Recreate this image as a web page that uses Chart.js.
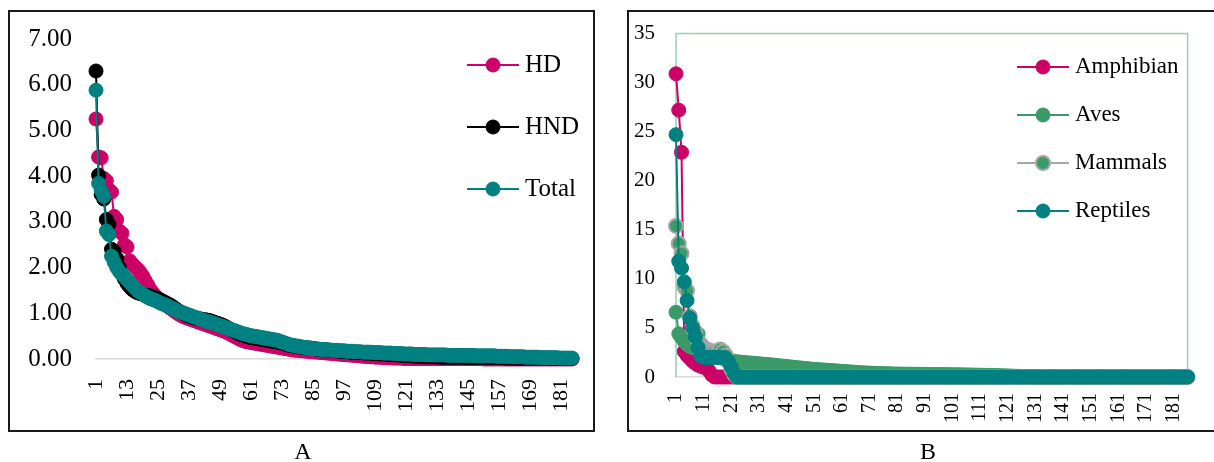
<!DOCTYPE html>
<html>
<head>
<meta charset="utf-8">
<script src="https://cdn.jsdelivr.net/npm/chart.js@4.4.1/dist/chart.umd.min.js"></script>
<style>
  html, body { margin: 0; padding: 0; background: #fff; }
  #page { position: relative; width: 1214px; height: 462px; overflow: hidden; font-family: 'Liberation Serif', 'Times New Roman', serif; }
  .frame { position: absolute; border: 2px solid #1a1a1a; box-sizing: border-box; }
  #frameA { left: 8px; top: 10px; width: 587px; height: 422px; }
  #frameB { left: 627px; top: 10px; width: 600px; height: 422px; }
  canvas { position: absolute; top: 0; }
  #chartA { left: 0; }
  #chartB { left: 612px; }
  .tag { position: absolute; top: 439px; width: 40px; font-size: 24px; line-height: 24px; text-align: center; color: #000; }
</style>
</head>
<body>
<div id="page">
  <div class="frame" id="frameA"></div>
  <div class="frame" id="frameB"></div>
  <canvas id="chartA" width="612" height="462"></canvas>
  <canvas id="chartB" width="602" height="462"></canvas>
  <div class="tag" style="left:283px">A</div>
  <div class="tag" style="left:908px">B</div>
</div>
<script>
// Panel A - ranked values (HD / HND / Total)
const seriesHD = [
  5.25, 4.42, 4.40, 3.95, 3.90, 3.70, 3.65, 3.12, 3.05, 2.80,
  2.75, 2.50, 2.45, 2.15, 2.08, 2.02, 1.97, 1.90, 1.82, 1.72,
  1.62, 1.52, 1.44, 1.38, 1.32, 1.27, 1.22, 1.18, 1.14, 1.10,
  1.06, 1.02, 0.98, 0.95, 0.92, 0.90, 0.88, 0.86, 0.84, 0.82,
  0.80, 0.78, 0.76, 0.74, 0.72, 0.70, 0.68, 0.66, 0.64, 0.62,
  0.60, 0.57, 0.54, 0.51, 0.48, 0.45, 0.42, 0.40, 0.38, 0.37,
  0.36, 0.35, 0.34, 0.33, 0.32, 0.31, 0.30, 0.29, 0.28, 0.27,
  0.26, 0.25, 0.24, 0.23, 0.22, 0.21, 0.20, 0.19, 0.19, 0.18,
  0.18, 0.17, 0.17, 0.16, 0.16, 0.15, 0.15, 0.14, 0.14, 0.13,
  0.13, 0.12, 0.12, 0.11, 0.11, 0.10, 0.10, 0.09, 0.09, 0.08,
  0.08, 0.07, 0.07, 0.06, 0.06, 0.05, 0.05, 0.05, 0.04, 0.04,
  0.04, 0.03, 0.03, 0.03, 0.03, 0.02, 0.02, 0.02, 0.02, 0.01,
  0.01, 0.01, 0.01, 0.01, 0.01, 0.01, 0.01, 0.01, 0.01, 0.01,
  0.01, 0.01, 0.01, 0.01, 0.01, 0.01, 0.01, 0.01, 0.01, 0.01,
  0.01, 0.01, 0.01, 0.01, 0.01, 0.01, 0.01, 0.01, 0.01, 0.01,
  0.00, 0.00, 0.00, 0.00, 0.00, 0.00, 0.00, 0.00, 0.00, 0.00,
  0.00, 0.00, 0.00, 0.00, 0.00, 0.00, 0.00, 0.00, 0.00, 0.00,
  0.00, 0.00, 0.00, 0.00, 0.00, 0.00, 0.00, 0.00, 0.00, 0.00,
  0.00, 0.00, 0.00, 0.00, 0.00
];
const seriesHND = [
  6.30, 4.02, 3.60, 3.50, 3.05, 2.95, 2.40, 2.35, 2.20, 2.00,
  1.85, 1.75, 1.65, 1.58, 1.52, 1.48, 1.45, 1.43, 1.42, 1.40,
  1.39, 1.38, 1.36, 1.34, 1.32, 1.29, 1.26, 1.23, 1.20, 1.17,
  1.13, 1.09, 1.05, 1.02, 0.99, 0.96, 0.94, 0.92, 0.90, 0.89,
  0.88, 0.87, 0.86, 0.85, 0.84, 0.82, 0.80, 0.78, 0.76, 0.74,
  0.71, 0.68, 0.65, 0.62, 0.59, 0.56, 0.54, 0.52, 0.50, 0.48,
  0.47, 0.46, 0.45, 0.44, 0.43, 0.42, 0.41, 0.40, 0.39, 0.38,
  0.37, 0.36, 0.35, 0.33, 0.31, 0.30, 0.29, 0.28, 0.27, 0.26,
  0.25, 0.25, 0.24, 0.24, 0.23, 0.22, 0.21, 0.21, 0.20, 0.20,
  0.19, 0.19, 0.18, 0.18, 0.17, 0.17, 0.16, 0.16, 0.15, 0.15,
  0.15, 0.14, 0.14, 0.14, 0.13, 0.13, 0.13, 0.12, 0.12, 0.12,
  0.11, 0.11, 0.11, 0.10, 0.10, 0.10, 0.09, 0.09, 0.08, 0.08,
  0.07, 0.07, 0.07, 0.06, 0.06, 0.06, 0.06, 0.05, 0.05, 0.05,
  0.05, 0.05, 0.05, 0.04, 0.04, 0.04, 0.04, 0.04, 0.04, 0.04,
  0.04, 0.04, 0.04, 0.03, 0.03, 0.03, 0.03, 0.03, 0.03, 0.03,
  0.03, 0.03, 0.03, 0.03, 0.03, 0.03, 0.03, 0.03, 0.02, 0.02,
  0.02, 0.02, 0.02, 0.02, 0.02, 0.02, 0.02, 0.02, 0.02, 0.02,
  0.02, 0.02, 0.02, 0.02, 0.02, 0.01, 0.01, 0.01, 0.01, 0.01,
  0.01, 0.01, 0.01, 0.01, 0.01
];
const seriesTotal = [
  5.88, 3.84, 3.69, 3.56, 2.80, 2.72, 2.25, 2.12, 2.00, 1.92,
  1.86, 1.80, 1.74, 1.68, 1.62, 1.56, 1.50, 1.46, 1.42, 1.38,
  1.35, 1.32, 1.30, 1.28, 1.25, 1.22, 1.20, 1.18, 1.15, 1.12,
  1.10, 1.07, 1.04, 1.02, 1.00, 0.98, 0.96, 0.94, 0.92, 0.90,
  0.88, 0.86, 0.84, 0.82, 0.81, 0.79, 0.77, 0.75, 0.73, 0.71,
  0.69, 0.67, 0.65, 0.63, 0.61, 0.59, 0.57, 0.55, 0.54, 0.52,
  0.51, 0.50, 0.49, 0.48, 0.47, 0.46, 0.45, 0.44, 0.43, 0.42,
  0.41, 0.39, 0.37, 0.35, 0.33, 0.31, 0.30, 0.29, 0.28, 0.27,
  0.26, 0.25, 0.24, 0.23, 0.23, 0.22, 0.22, 0.21, 0.21, 0.20,
  0.20, 0.19, 0.19, 0.19, 0.18, 0.18, 0.18, 0.17, 0.17, 0.17,
  0.16, 0.16, 0.16, 0.15, 0.15, 0.15, 0.15, 0.14, 0.14, 0.14,
  0.14, 0.13, 0.13, 0.13, 0.13, 0.12, 0.12, 0.12, 0.12, 0.11,
  0.11, 0.11, 0.11, 0.10, 0.10, 0.10, 0.10, 0.10, 0.09, 0.09,
  0.09, 0.09, 0.09, 0.09, 0.09, 0.09, 0.08, 0.08, 0.08, 0.08,
  0.08, 0.08, 0.08, 0.08, 0.08, 0.08, 0.08, 0.07, 0.07, 0.07,
  0.07, 0.07, 0.07, 0.07, 0.07, 0.06, 0.06, 0.06, 0.06, 0.06,
  0.05, 0.05, 0.05, 0.05, 0.05, 0.05, 0.04, 0.04, 0.04, 0.04,
  0.04, 0.04, 0.03, 0.03, 0.03, 0.03, 0.03, 0.03, 0.03, 0.02,
  0.02, 0.02, 0.02, 0.02, 0.02
];

// Panel B - ranked values per class
const seriesAmphibian = [
  30.9, 27.2, 22.9, 2.6, 2.2, 1.9, 1.6, 1.4, 1.2, 1.1,
  1.0, 0.9, 0.6, 0.2, 0, 0, 0, 0, 0, 0,
  0, 0, 0, 0, 0, 0, 0, 0, 0, 0,
  0, 0, 0, 0, 0, 0, 0, 0, 0, 0,
  0, 0, 0, 0, 0, 0, 0, 0, 0, 0,
  0, 0, 0, 0, 0, 0, 0, 0, 0, 0,
  0, 0, 0, 0, 0, 0, 0, 0, 0, 0,
  0, 0, 0, 0, 0, 0, 0, 0, 0, 0,
  0, 0, 0, 0, 0, 0, 0, 0, 0, 0,
  0, 0, 0, 0, 0, 0, 0, 0, 0, 0,
  0, 0, 0, 0, 0, 0, 0, 0, 0, 0,
  0, 0, 0, 0, 0, 0, 0, 0, 0, 0,
  0, 0, 0, 0, 0, 0, 0, 0, 0, 0,
  0, 0, 0, 0, 0, 0, 0, 0, 0, 0,
  0, 0, 0, 0, 0, 0, 0, 0, 0, 0,
  0, 0, 0, 0, 0, 0, 0, 0, 0, 0,
  0, 0, 0, 0, 0, 0, 0, 0, 0, 0,
  0, 0, 0, 0, 0, 0, 0, 0, 0, 0,
  0, 0, 0, 0, 0, 0
];
const seriesAves = [
  6.6, 4.4, 4.0, 3.6, 3.3, 3.1, 3.0, 4.6, 4.4, 3.4,
  3.0, 2.7, 2.5, 2.3, 2.2, 2.1, 2.0, 1.9, 1.8, 1.7,
  1.65, 1.6, 1.55, 1.52, 1.5, 1.47, 1.45, 1.42, 1.4, 1.37,
  1.35, 1.32, 1.3, 1.27, 1.25, 1.22, 1.19, 1.16, 1.13, 1.1,
  1.07, 1.04, 1.01, 0.98, 0.95, 0.92, 0.89, 0.86, 0.83, 0.8,
  0.78, 0.76, 0.74, 0.72, 0.7, 0.68, 0.66, 0.64, 0.62, 0.6,
  0.58, 0.56, 0.54, 0.52, 0.5, 0.48, 0.46, 0.44, 0.42, 0.41,
  0.4, 0.39, 0.38, 0.37, 0.36, 0.35, 0.34, 0.33, 0.32, 0.31,
  0.3, 0.3, 0.3, 0.29, 0.29, 0.29, 0.28, 0.28, 0.28, 0.27,
  0.27, 0.27, 0.26, 0.26, 0.26, 0.25, 0.25, 0.25, 0.24, 0.24,
  0.24, 0.23, 0.23, 0.22, 0.22, 0.21, 0.21, 0.2, 0.2, 0.19,
  0.19, 0.18, 0.18, 0.17, 0.16, 0.15, 0.15, 0.14, 0.13, 0.12,
  0.11, 0.1, 0.09, 0.08, 0.07, 0.06, 0.05, 0.04, 0.03, 0.02,
  0.01, 0.01, 0.01, 0.01, 0.01, 0.01, 0.01, 0.01, 0.01, 0.01,
  0, 0, 0, 0, 0, 0, 0, 0, 0, 0,
  0, 0, 0, 0, 0, 0, 0, 0, 0, 0,
  0, 0, 0, 0, 0, 0, 0, 0, 0, 0,
  0, 0, 0, 0, 0, 0, 0, 0, 0, 0,
  0, 0, 0, 0, 0, 0
];
const seriesMammals = [
  15.4, 13.6, 12.6, 9.2, 8.8, 6.2, 5.2, 4.6, 3.6, 3.3,
  3.0, 2.8, 2.7, 2.6, 2.6, 2.5, 2.8, 2.6, 2.2, 1.5,
  0.8, 0.3, 0, 0, 0, 0, 0, 0, 0, 0,
  0, 0, 0, 0, 0, 0, 0, 0, 0, 0,
  0, 0, 0, 0, 0, 0, 0, 0, 0, 0,
  0, 0, 0, 0, 0, 0, 0, 0, 0, 0,
  0, 0, 0, 0, 0, 0, 0, 0, 0, 0,
  0, 0, 0, 0, 0, 0, 0, 0, 0, 0,
  0, 0, 0, 0, 0, 0, 0, 0, 0, 0,
  0, 0, 0, 0, 0, 0, 0, 0, 0, 0,
  0, 0, 0, 0, 0, 0, 0, 0, 0, 0,
  0, 0, 0, 0, 0, 0, 0, 0, 0, 0,
  0, 0, 0, 0, 0, 0, 0, 0, 0, 0,
  0, 0, 0, 0, 0, 0, 0, 0, 0, 0,
  0, 0, 0, 0, 0, 0, 0, 0, 0, 0,
  0, 0, 0, 0, 0, 0, 0, 0, 0, 0,
  0, 0, 0, 0, 0, 0, 0, 0, 0, 0,
  0, 0, 0, 0, 0, 0, 0, 0, 0, 0,
  0, 0, 0, 0, 0, 0
];
const seriesReptiles = [
  24.7, 11.8, 11.1, 9.7, 7.8, 6.0, 5.0, 4.1, 3.0, 2.1,
  2.0, 2.0, 2.0, 2.0, 2.0, 2.0, 2.0, 2.0, 1.9, 1.6,
  1.0, 0.4, 0, 0, 0, 0, 0, 0, 0, 0,
  0, 0, 0, 0, 0, 0, 0, 0, 0, 0,
  0, 0, 0, 0, 0, 0, 0, 0, 0, 0,
  0, 0, 0, 0, 0, 0, 0, 0, 0, 0,
  0, 0, 0, 0, 0, 0, 0, 0, 0, 0,
  0, 0, 0, 0, 0, 0, 0, 0, 0, 0,
  0, 0, 0, 0, 0, 0, 0, 0, 0, 0,
  0, 0, 0, 0, 0, 0, 0, 0, 0, 0,
  0, 0, 0, 0, 0, 0, 0, 0, 0, 0,
  0, 0, 0, 0, 0, 0, 0, 0, 0, 0,
  0, 0, 0, 0, 0, 0, 0, 0, 0, 0,
  0, 0, 0, 0, 0, 0, 0, 0, 0, 0,
  0, 0, 0, 0, 0, 0, 0, 0, 0, 0,
  0, 0, 0, 0, 0, 0, 0, 0, 0, 0,
  0, 0, 0, 0, 0, 0, 0, 0, 0, 0,
  0, 0, 0, 0, 0, 0, 0, 0, 0, 0,
  0, 0, 0, 0, 0, 0
];

// rank labels and tick spacing
const categoriesA = seriesTotal.map(function(v, i) { return String(i + 1); });
const categoriesB = seriesReptiles.map(function(v, i) { return String(i + 1); });
const tickStepA = 12;
const tickStepB = 10;

const SERIF = "'Liberation Serif', 'Times New Roman', serif";
const MAGENTA = '#cc0066';
const TEAL = '#008080';
const GREEN = '#3a9a68';
const GREY = '#a6a6a6';

// legend drawn inside the plot like the Excel one (line + marker + text)
const lineLegend = {
    id: 'lineLegend',
    afterDatasetsDraw: function(chart, args, opts) {
        const ctx = chart.ctx;
        ctx.save();
        ctx.font = opts.fontSize + 'px ' + SERIF;
        ctx.textBaseline = 'middle';
        ctx.textAlign = 'left';
        chart.data.datasets.forEach(function(ds, i) {
            const y = opts.top + i * opts.gap;
            ctx.strokeStyle = ds.borderColor;
            ctx.lineWidth = 2;
            ctx.beginPath();
            ctx.moveTo(opts.left, y);
            ctx.lineTo(opts.left + 52, y);
            ctx.stroke();
            ctx.beginPath();
            ctx.arc(opts.left + 26, y, 7, 0, Math.PI * 2);
            ctx.fillStyle = ds.pointBackgroundColor;
            ctx.fill();
            ctx.lineWidth = ds.pointBorderWidth;
            ctx.strokeStyle = ds.pointBorderColor;
            ctx.stroke();
            ctx.fillStyle = '#000';
            ctx.fillText(ds.label, opts.left + 58, y);
        });
        ctx.restore();
    }
};

// green plot-area outline in panel B
const plotOutline = {
    id: 'plotOutline',
    beforeDatasetsDraw: function(chart, args, opts) {
        if (!opts.color) return;
        const a = chart.chartArea;
        const ctx = chart.ctx;
        ctx.save();
        ctx.strokeStyle = opts.color;
        ctx.lineWidth = 1.5;
        ctx.beginPath();
        ctx.moveTo(a.left, a.bottom);
        ctx.lineTo(a.left, a.top);
        ctx.lineTo(a.right, a.top);
        ctx.lineTo(a.right, a.bottom);
        ctx.stroke();
        ctx.restore();
    }
};

function makeSet(label, data, line, fill, border, borderW, order) {
    return {
        label: label,
        data: data,
        borderColor: line,
        borderWidth: 2,
        pointBackgroundColor: fill,
        pointBorderColor: border,
        pointBorderWidth: borderW,
        pointRadius: 7,
        pointHoverRadius: 7,
        tension: 0,
        clip: false,
        order: order
    };
}

function xAxis(step, pad, size, h) {
    return {
        type: 'category',
        offset: false,
        grid: { display: false, drawTicks: false },
        border: { display: true, color: '#d9d9d9', width: 1.5 },
        ticks: {
            autoSkip: false,
            minRotation: 90,
            maxRotation: 90,
            padding: pad,
            color: '#000',
            font: { family: SERIF, size: size },
            callback: function(value, index) {
                return index % step === 0 ? this.getLabelForValue(value) : null;
            }
        },
        afterFit: function(scale) { scale.height = h; }
    };
}

$ready();
function $ready() {
    const ctxA = document.getElementById('chartA');
    new Chart(ctxA, {
        type: 'line',
        data: {
            labels: categoriesA,
            datasets: [
                makeSet('HD', seriesHD, MAGENTA, MAGENTA, MAGENTA, 1, 2),
                makeSet('HND', seriesHND, '#000000', '#000000', '#000000', 1, 1),
                makeSet('Total', seriesTotal, TEAL, TEAL, TEAL, 1, 0)
            ]
        },
        options: {
            responsive: false,
            animation: false,
            layout: { padding: { left: 0, right: 40, top: 33, bottom: 0 } },
            scales: {
                x: xAxis(tickStepA, 20, 22, 103),
                y: {
                    min: 0,
                    max: 7,
                    grid: { display: false, drawTicks: false },
                    border: { display: false },
                    ticks: {
                        stepSize: 1,
                        padding: 24,
                        color: '#000',
                        font: { family: SERIF, size: 25 },
                        callback: function(v) { return Number(v).toFixed(2); }
                    },
                    afterFit: function(scale) { scale.width = 96; }
                }
            },
            plugins: {
                legend: { display: false },
                tooltip: { enabled: false },
                lineLegend: { left: 467, top: 65, gap: 62, fontSize: 25 },
                plotOutline: {}
            }
        },
        plugins: [lineLegend, plotOutline]
    });

    const ctxB = document.getElementById('chartB');
    new Chart(ctxB, {
        type: 'line',
        data: {
            labels: categoriesB,
            datasets: [
                makeSet('Amphibian', seriesAmphibian, MAGENTA, MAGENTA, MAGENTA, 1, 3),
                makeSet('Aves', seriesAves, GREEN, GREEN, GREEN, 1, 2),
                makeSet('Mammals', seriesMammals, GREY, GREEN, GREY, 2, 1),
                makeSet('Reptiles', seriesReptiles, TEAL, TEAL, TEAL, 1, 0)
            ]
        },
        options: {
            responsive: false,
            animation: false,
            layout: { padding: { left: 0, right: 7, top: 33, bottom: 0 } },
            scales: {
                x: xAxis(tickStepB, 16, 20, 85),
                y: {
                    min: 0,
                    max: 35,
                    grid: { display: false, drawTicks: false },
                    border: { display: false },
                    ticks: {
                        stepSize: 5,
                        padding: 21,
                        color: '#000',
                        font: { family: SERIF, size: 21 }
                    },
                    afterFit: function(scale) { scale.width = 64; }
                }
            },
            plugins: {
                legend: { display: false },
                tooltip: { enabled: false },
                lineLegend: { left: 405, top: 67, gap: 48, fontSize: 23 },
                plotOutline: { color: '#94d1b0' }
            }
        },
        plugins: [lineLegend, plotOutline]
    });
}
</script>
</body>
</html>
